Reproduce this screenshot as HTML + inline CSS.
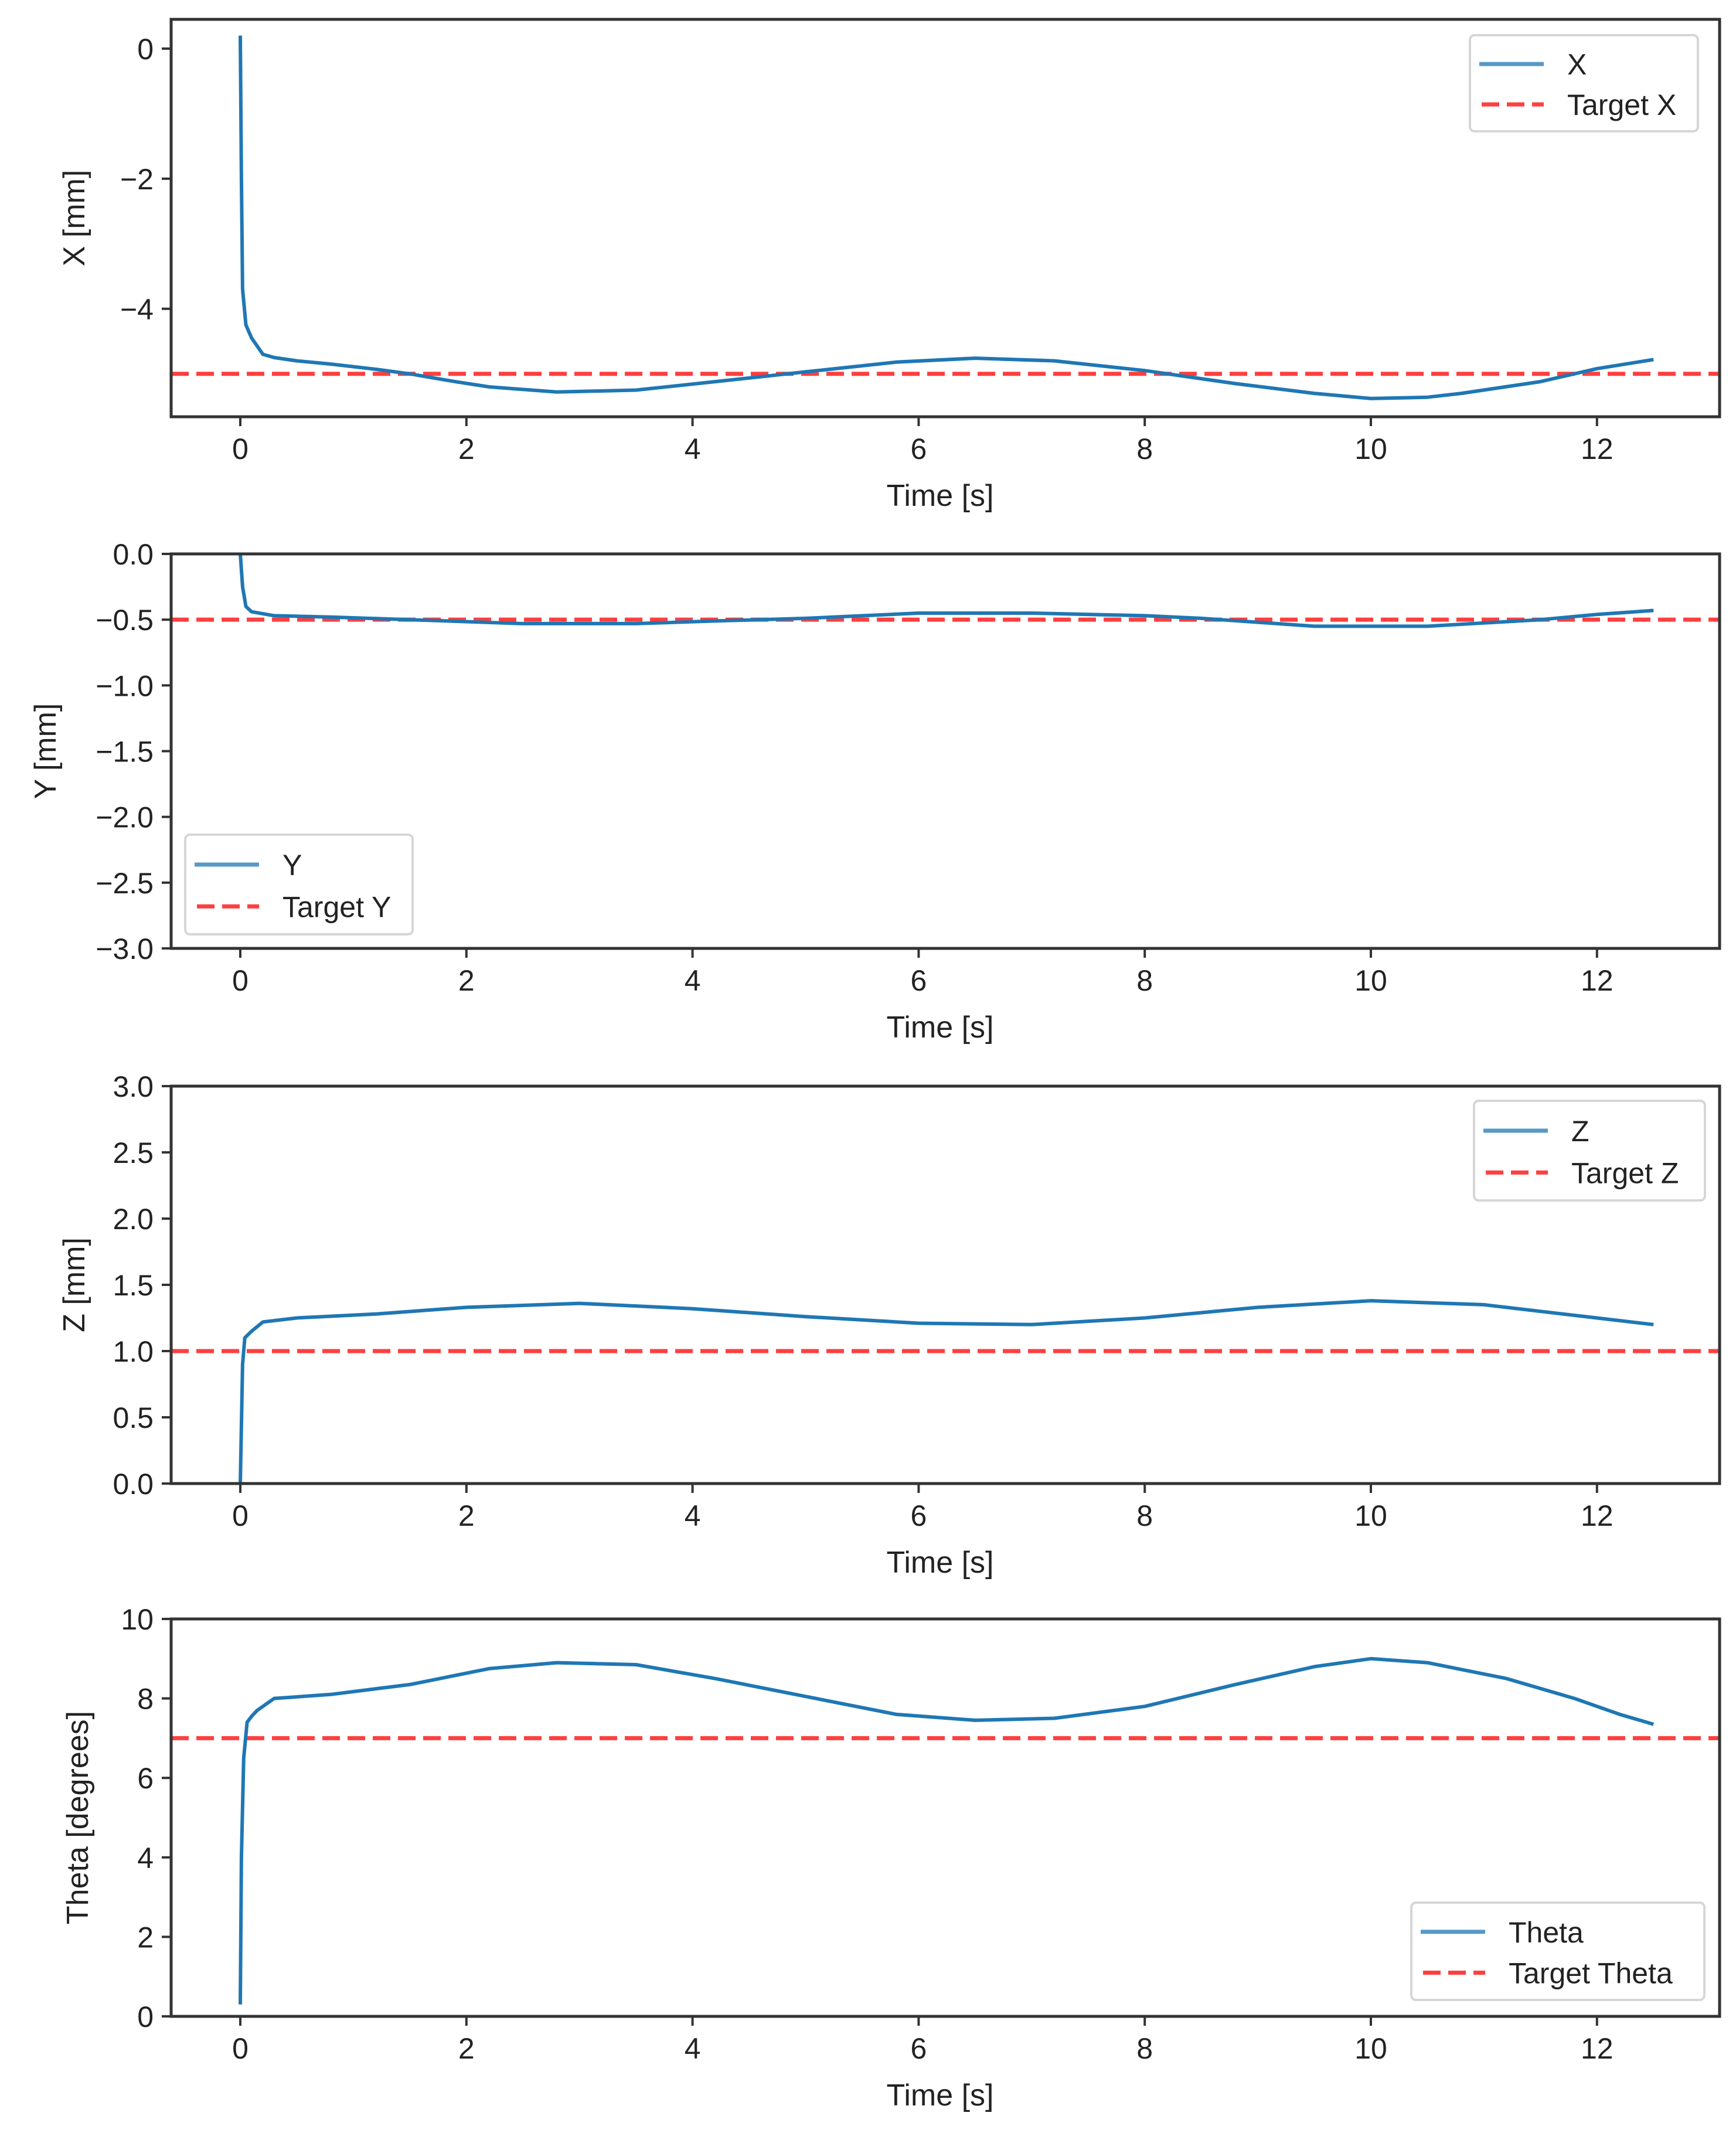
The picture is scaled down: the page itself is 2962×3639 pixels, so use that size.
<!DOCTYPE html>
<html><head><meta charset="utf-8">
<style>
html,body{margin:0;padding:0;background:#fff;}
svg{display:block;font-family:"Liberation Sans","DejaVu Sans",sans-serif;}
</style></head>
<body>
<svg id="fig" xmlns="http://www.w3.org/2000/svg" width="2962" height="3639" viewBox="0 0 2962 3639"></svg>
<script>
// ---- data ----
const xTicks = [0,2,4,6,8,10,12];
const tX = [0,0.01,0.02,0.05,0.1,0.2,0.3,0.5,0.8,1.2,1.5,1.9,2.2,2.8,3.5,4.2,5,5.8,6.5,7.2,8,8.8,9.5,10,10.5,10.8,11.5,12,12.5];
const vX = [0.2,-2.0,-3.7,-4.25,-4.45,-4.7,-4.75,-4.8,-4.85,-4.93,-5.0,-5.12,-5.2,-5.28,-5.25,-5.12,-4.97,-4.82,-4.76,-4.8,-4.95,-5.15,-5.3,-5.38,-5.36,-5.3,-5.12,-4.92,-4.78];
const tY = [0,0.02,0.05,0.1,0.3,0.8,1.5,2.5,3.5,4.2,5,6,7,8,8.5,9.5,10.5,11.5,12,12.5];
const vY = [0,-0.25,-0.4,-0.44,-0.47,-0.48,-0.5,-0.53,-0.53,-0.51,-0.49,-0.45,-0.45,-0.47,-0.49,-0.55,-0.55,-0.5,-0.46,-0.43];
const tZ = [0,0.02,0.04,0.1,0.2,0.5,1.2,2,3,4,5,6,7,8,9,10,11,12,12.5];
const vZ = [0,0.9,1.1,1.15,1.22,1.25,1.28,1.33,1.36,1.32,1.26,1.21,1.2,1.25,1.33,1.38,1.35,1.25,1.2];
const tT = [0,0.01,0.03,0.06,0.1,0.15,0.3,0.8,1.5,2.2,2.8,3.5,4.2,5,5.8,6.5,7.2,8,8.8,9.5,10,10.5,11.2,11.8,12.2,12.5];
const vT = [0.3,4.0,6.5,7.4,7.55,7.7,8.0,8.1,8.35,8.75,8.9,8.85,8.5,8.05,7.6,7.45,7.5,7.8,8.35,8.8,9.0,8.9,8.5,8.0,7.6,7.35];
const yTicksX = [0,-2,-4];
const yTicksY = [0.0,-0.5,-1.0,-1.5,-2.0,-2.5,-3.0];
const yTicksZ = [0.0,0.5,1.0,1.5,2.0,2.5,3.0];
const yTicksT = [0,2,4,6,8,10];
const targets = [-5,-0.5,1.0,7];

const NS="http://www.w3.org/2000/svg";
const svg=document.getElementById('fig');
function el(tag,attrs,parent){const e=document.createElementNS(NS,tag);for(const k in attrs)e.setAttribute(k,attrs[k]);(parent||svg).appendChild(e);return e;}

const L=292,R=2934,X0=410,PX=192.9;
const sx=t=>X0+t*PX;
const panels=[
 {name:'x',top:33,bot:711,ymin:-5.66,ymax:0.45,t:tX,v:vX,ticks:yTicksX,fmt:v=>v===0?'0':'\u2212'+Math.abs(v),label:'X [mm]',lx:127,leg:{x:2508,y:60,w:389,h:164,a:'X',b:'Target X'},target:targets[0]},
 {name:'y',top:945,bot:1618,ymin:-3,ymax:0,t:tY,v:vY,ticks:yTicksY,fmt:v=>(v<0?'\u2212':'')+Math.abs(v).toFixed(1),label:'Y [mm]',lx:78,leg:{x:316,y:1424,w:388,h:170,a:'Y',b:'Target Y'},target:targets[1]},
 {name:'z',top:1853,bot:2531,ymin:0,ymax:3,t:tZ,v:vZ,ticks:yTicksZ,fmt:v=>v.toFixed(1),label:'Z [mm]',lx:127,leg:{x:2515,y:1878,w:394,h:170,a:'Z',b:'Target Z'},target:targets[2]},
 {name:'theta',top:2762,bot:3440,ymin:0,ymax:10,t:tT,v:vT,ticks:yTicksT,fmt:v=>String(v),label:'Theta [degrees]',lx:133,leg:{x:2408,y:3246,w:500,h:166,a:'Theta',b:'Target Theta'},target:targets[3]}
];

panels.forEach(p=>{
  const g=el('g',{});
  
  
  const sy=v=>p.bot-(v-p.ymin)/(p.ymax-p.ymin)*(p.bot-p.top);
  const tl=el('line',{x1:L,x2:R,y1:sy(p.target),y2:sy(p.target),stroke:'#ff3f3f','stroke-width':7,'stroke-dasharray':'30 13'},g);
  
  
  let d='';p.t.forEach((t,i)=>{d+=(i?'L':'M')+sx(t).toFixed(1)+','+sy(p.v[i]).toFixed(1);});
  const ln=el('path',{d:d,fill:'none',stroke:'#1f77b4','stroke-width':6,'stroke-linejoin':'round'},g);
  
  
  const fr=el('rect',{x:L,y:p.top,width:R-L,height:p.bot-p.top,fill:'none',stroke:'#333','stroke-width':5},g);
  
  
  xTicks.forEach(t=>{
    el('line',{x1:sx(t),x2:sx(t),y1:p.bot,y2:p.bot+16,stroke:'#333','stroke-width':4},g);
    const tx=el('text',{x:sx(t),y:p.bot+72,'font-size':50,'text-anchor':'middle',fill:'#222'},g);
    tx.textContent=t;
    
    
  });
  const xl=el('text',{x:1604,y:p.bot+152,'font-size':52,'text-anchor':'middle',fill:'#222'},g);
  xl.textContent='Time [s]';
  
  
  p.ticks.forEach(v=>{
    el('line',{x1:L-16,x2:L,y1:sy(v),y2:sy(v),stroke:'#333','stroke-width':4},g);
    const ty=el('text',{x:L-30,y:sy(v)+18,'font-size':50,'text-anchor':'end',fill:'#222'},g);
    ty.textContent=p.fmt(v);
    
    
  });
  const cy=(p.top+p.bot)/2;
  const yl=el('text',{x:p.lx,y:cy,'font-size':52,'text-anchor':'middle',fill:'#222',transform:'rotate(-90 '+p.lx+' '+cy+')','dominant-baseline':'central'},g);
  yl.textContent=p.label;
  
  
  const lg=el('g',{},g);
  
  
  const b=p.leg;
  el('rect',{x:b.x,y:b.y,width:b.w,height:b.h,rx:8,fill:'#fff','fill-opacity':0.85,stroke:'#d6d6d6','stroke-width':4},lg);
  const r1=b.y+b.h*0.3, r2=b.y+b.h*0.72;
  el('line',{x1:b.x+16,x2:b.x+126,y1:r1,y2:r1,stroke:'#1f77b4','stroke-width':7,'stroke-opacity':0.75},lg);
  el('line',{x1:b.x+20,x2:b.x+126,y1:r2,y2:r2,stroke:'#ff3f3f','stroke-width':7,'stroke-dasharray':'30 13'},lg);
  const e1=el('text',{x:b.x+166,y:r1+18,'font-size':50,fill:'#222'},lg); e1.textContent=b.a;
  
  
  const e2=el('text',{x:b.x+166,y:r2+18,'font-size':50,fill:'#222'},lg); e2.textContent=b.b;
  
  
});
</script>
</body></html>
